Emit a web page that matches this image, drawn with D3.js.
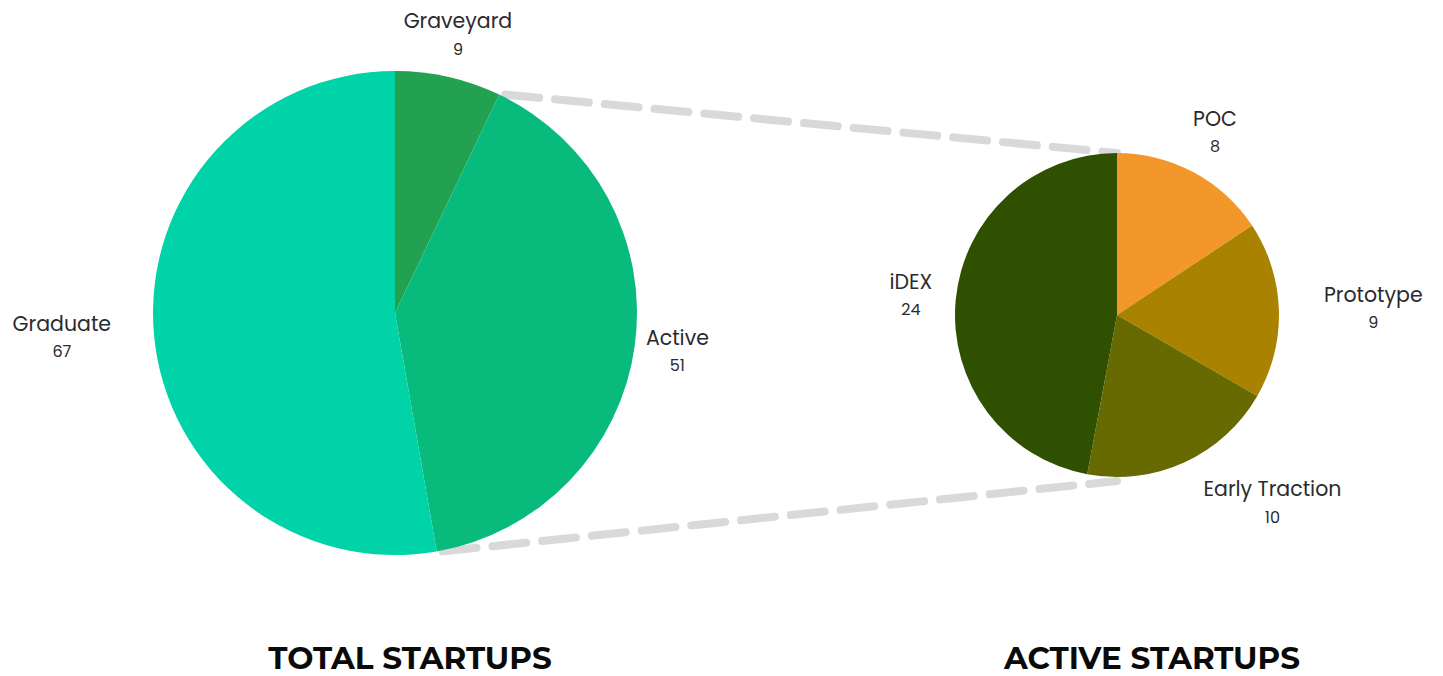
<!DOCTYPE html>
<html>
<head>
<meta charset="utf-8">
<script src="https://cdn.jsdelivr.net/npm/d3@7"></script>
<style>
  body { margin: 0; background: #fff; }
  svg { display: block; }
</style>
</head>
<body>
<svg id="chart"></svg>
<script>
// Data
const totalLabels = ["Graveyard", "Active", "Graduate"];
const totalValues = [9, 51, 67];
const totalColors = ["#22a251", "#08bb7d", "#00d3a7"];

const activeLabels = ["POC", "Prototype", "Early Traction", "iDEX"];
const activeValues = [8, 9, 10, 24];
const activeColors = ["#f4972b", "#a98300", "#666a00", "#2f5000"];

const titles = ["TOTAL STARTUPS", "ACTIVE STARTUPS"];

// Layout
const width = 1443;
const height = 676;

const svg = d3.select("#chart")
    .attr("width", width)
    .attr("height", height)
    .attr("viewBox", [0, 0, width, height]);

const pie = d3.pie().sort(null).value(d => d.value);

// cx, cy, r, label radius, text alignment of each label, title x
const charts = [
    {
        labels: totalLabels, values: totalValues, colors: totalColors,
        cx: 395, cy: 313, r: 242, labelR: 285,
        anchors: ["middle", "middle", "end"],
        title: titles[0], titleX: 410
    },
    {
        labels: activeLabels, values: activeValues, colors: activeColors,
        cx: 1117, cy: 315, r: 162, labelR: 207,
        anchors: ["middle", "start", "start", "middle"],
        title: titles[1], titleX: 1152
    }
];

charts.forEach(c => {
    c.arcs = pie(c.labels.map((l, i) => ({ label: l, value: c.values[i] })));
});

// point on a circle at a pie angle (0 = top, clockwise)
const onCircle = (c, a, r) => [c.cx + r * Math.sin(a), c.cy - r * Math.cos(a)];

// Connector dashed lines, drawn underneath the pies
const left = charts[0], right = charts[1];
const topStart = onCircle(left, left.arcs[0].endAngle, left.r);
const botStart = onCircle(left, left.arcs[1].endAngle, left.r);
const topEnd = onCircle(right, 0, right.r);
const botEnd = onCircle(right, Math.PI, right.r + 4);

svg.append("g")
    .selectAll("line")
    .data([[topStart, topEnd], [botStart, botEnd]])
    .join("line")
    .attr("x1", d => d[0][0] + 6)
    .attr("y1", d => d[0][1])
    .attr("x2", d => d[1][0])
    .attr("y2", d => d[1][1])
    .attr("stroke", "#d9d9d9")
    .attr("stroke-width", 8)
    .attr("stroke-linecap", "round")
    .attr("stroke-dasharray", "34,16");

charts.forEach(c => {
    const arc = d3.arc().innerRadius(0).outerRadius(c.r);
    const g = svg.append("g").attr("transform", `translate(${c.cx},${c.cy})`);

    g.selectAll("path")
        .data(c.arcs)
        .join("path")
        .attr("fill", (d, i) => c.colors[i])
        .attr("d", arc);

    const lab = g.selectAll("g.label")
        .data(c.arcs)
        .join("g")
        .attr("class", "label")
        .attr("transform", d => {
            const a = (d.startAngle + d.endAngle) / 2;
            return `translate(${c.labelR * Math.sin(a)},${-c.labelR * Math.cos(a)})`;
        });

    lab.append("text")
        .attr("y", -14)
        .attr("dy", "0.35em")
        .attr("text-anchor", (d, i) => c.anchors[i])
        .attr("font-family", "Poppins, Inter, sans-serif")
        .attr("font-size", 20.5)
        .attr("font-weight", 400)
        .attr("fill", "#2a2b2e")
        .text(d => d.data.label);

    // value sits centred under its name
    lab.each(function (d, i) {
        const sel = d3.select(this);
        const w = sel.select("text").node().getComputedTextLength();
        const off = c.anchors[i] === "start" ? w / 2 : c.anchors[i] === "end" ? -w / 2 : 0;
        sel.append("text")
            .attr("x", off)
            .attr("y", 14)
            .attr("dy", "0.35em")
            .attr("text-anchor", "middle")
            .attr("font-family", "Poppins, Inter, sans-serif")
            .attr("font-size", 16)
            .attr("fill", "#2a2b2e")
            .text(d.data.value);
    });

    svg.append("text")
        .attr("x", c.titleX)
        .attr("y", 658)
        .attr("dy", "0.35em")
        .attr("text-anchor", "middle")
        .attr("font-family", "Montserrat, Inter, sans-serif")
        .attr("font-size", 31)
        .attr("font-weight", 700)
        .attr("fill", "#0a0a0a")
        .text(c.title);
});
</script>
</body>
</html>
